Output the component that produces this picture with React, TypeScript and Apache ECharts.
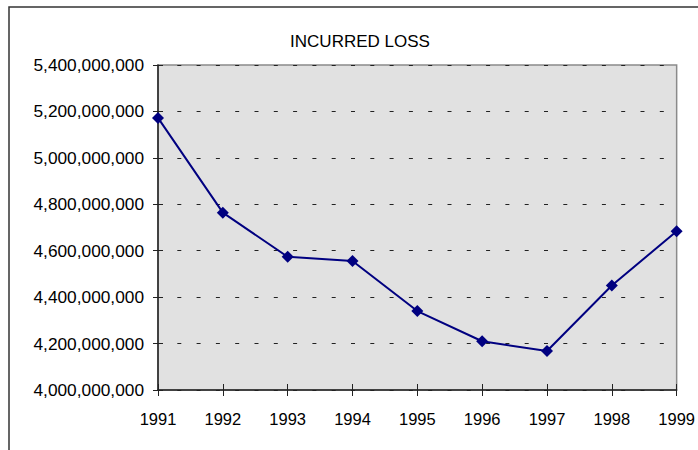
import React, { useEffect, useRef } from "react";
import * as echarts from "echarts";

const years = ["1991", "1992", "1993", "1994", "1995", "1996", "1997", "1998", "1999"];
const incurredLoss = [
  5172000000, 4764000000, 4574000000, 4556000000, 4340000000, 4210000000, 4168000000, 4450000000,
  4684000000,
];
const yMin = 4000000000;
const yMax = 5400000000;
const yStep = 200000000;
const titleText = "INCURRED LOSS";

const FONT = "'Liberation Sans', Arial, sans-serif";

export default function App() {
  const ref = useRef<HTMLDivElement>(null);
  useEffect(() => {
    if (!ref.current) return;
    const chart = echarts.init(ref.current, null, { renderer: "svg" });
    const fmt = (v: number) => v.toLocaleString("en-US");
    chart.setOption({
      animation: false,
      backgroundColor: "#ffffff",
      graphic: [
        {
          type: "rect",
          shape: { x: 9, y: 7, width: 900, height: 900 },
          style: { fill: "none", stroke: "#333", lineWidth: 1.5 },
          z: 0,
        },
        {
          type: "text",
          x: 360,
          y: 41,
          style: {
            text: titleText,
            fontFamily: FONT,
            fontSize: 17,
            fill: "#000",
            textAlign: "center",
            textVerticalAlign: "middle",
          },
        },
      ],
      grid: {
        left: 158,
        right: 18,
        top: 65,
        bottom: 60,
        show: true,
        backgroundColor: "#e1e1e1",
        borderColor: "#8a8a8a",
        borderWidth: 1.5,
      },
      xAxis: [
        {
          type: "category",
          data: years,
          boundaryGap: false,
          axisLine: { show: true, lineStyle: { color: "#222", width: 1.5 } },
          axisTick: { show: true, inside: false, length: 6, lineStyle: { color: "#222", width: 1 } },
          axisLabel: { color: "#000", fontFamily: FONT, fontSize: 16.5, margin: 20 },
          splitLine: { show: false },
        },
        {
          type: "category",
          data: years,
          boundaryGap: false,
          position: "bottom",
          axisLine: { show: false },
          axisTick: { show: true, inside: true, length: 6, lineStyle: { color: "#222", width: 1 } },
          axisLabel: { show: false },
          splitLine: { show: false },
        },
      ],
      yAxis: [
        {
          type: "value",
          min: yMin,
          max: yMax,
          interval: yStep,
          axisLine: { show: true, lineStyle: { color: "#222", width: 1.5 } },
          axisTick: { show: true, inside: false, length: 5, lineStyle: { color: "#222", width: 1 } },
          axisLabel: { color: "#000", fontFamily: FONT, fontSize: 17.3, margin: 14, formatter: fmt },
          splitLine: {
            show: true,
            lineStyle: { color: "#222", width: 1, type: [4, 15.3] },
          },
        },
        {
          type: "value",
          min: yMin,
          max: yMax,
          interval: yStep,
          position: "left",
          axisLine: { show: false },
          axisTick: { show: true, inside: true, length: 5, lineStyle: { color: "#222", width: 1 } },
          axisLabel: { show: false },
          splitLine: { show: false },
        },
      ],
      series: [
        {
          type: "line",
          data: incurredLoss,
          xAxisIndex: 0,
          yAxisIndex: 0,
          symbol: "diamond",
          symbolSize: 12,
          lineStyle: { color: "#000080", width: 2 },
          itemStyle: { color: "#000080" },
          z: 5,
        },
      ],
    });
    return () => chart.dispose();
  }, []);
  return (
    <div
      ref={ref}
      style={{ position: "fixed", left: 0, top: 0, width: 698, height: 450 }}
    />
  );
}
